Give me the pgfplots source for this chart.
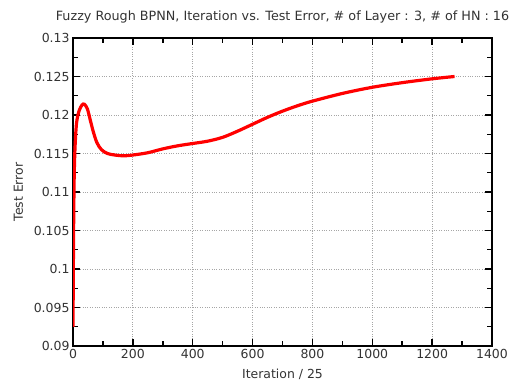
\documentclass[border=0pt]{standalone}
\usepackage{fontspec}
\setmainfont{DejaVu Sans}
\usepackage{pgfplots}
\pgfplotsset{compat=1.18}
\definecolor{txt}{HTML}{333333}
\begin{document}
\begin{tikzpicture}
\begin{axis}[
  anchor=south west, at={(0,0)},
  scale only axis, width=419bp, height=308bp,
  xmin=0, xmax=1400, ymin=0.09, ymax=0.13,
  xtick={0,200,...,1400}, ytick={0.09,0.095,...,0.1301},
  minor x tick num=1, minor y tick num=1,
  tick align=inside, major tick length=7bp, minor tick length=5bp,
  axis line style={line width=1.8pt},
  every tick/.style={black, line width=1.5pt},
  grid=major, grid style={gray!70, dotted, line width=0.8pt},
  scaled y ticks=false,
  /pgf/number format/.cd, fixed, precision=3, 1000 sep={}, assume math mode=true, /pgfplots/.cd,
  tick label style={font=\fontsize{12.5}{14}\selectfont, text=txt},
  label style={font=\fontsize{12.5}{14}\selectfont, text=txt},
  title style={font=\fontsize{12.8}{14}\selectfont, text=txt, yshift=5bp},
  title={Fuzzy Rough BPNN, Iteration vs. Test Error, \# of Layer : 3, \# of HN : 16},
  xlabel={Iteration / 25}, ylabel={Test Error},
  xlabel style={yshift=-3bp}, ylabel style={yshift=4bp},
]
\addplot[red, line width=3.2pt, smooth, tension=0.5] coordinates {
(0,0.0925) (2,0.105) (4,0.112) (7,0.116) (12,0.119) (20,0.1205) (30,0.1213)
(38,0.1214) (48,0.1208) (58,0.1193) (68,0.1178) (80,0.1164) (95,0.1155)
(115,0.1150) (140,0.1148) (170,0.1147) (200,0.1148) (250,0.1151) (300,0.1156)
(350,0.1160) (400,0.1163) (450,0.1166) (500,0.1171) (550,0.1179) (600,0.1188)
(650,0.1197) (700,0.1205) (750,0.1212) (800,0.1218) (900,0.1228) (1000,0.1236)
(1100,0.1242) (1200,0.1247) (1275,0.1250)
};
\end{axis}
\path[use as bounding box] (-73bp,-39bp) rectangle (455bp,346bp);
\end{tikzpicture}
\end{document}
